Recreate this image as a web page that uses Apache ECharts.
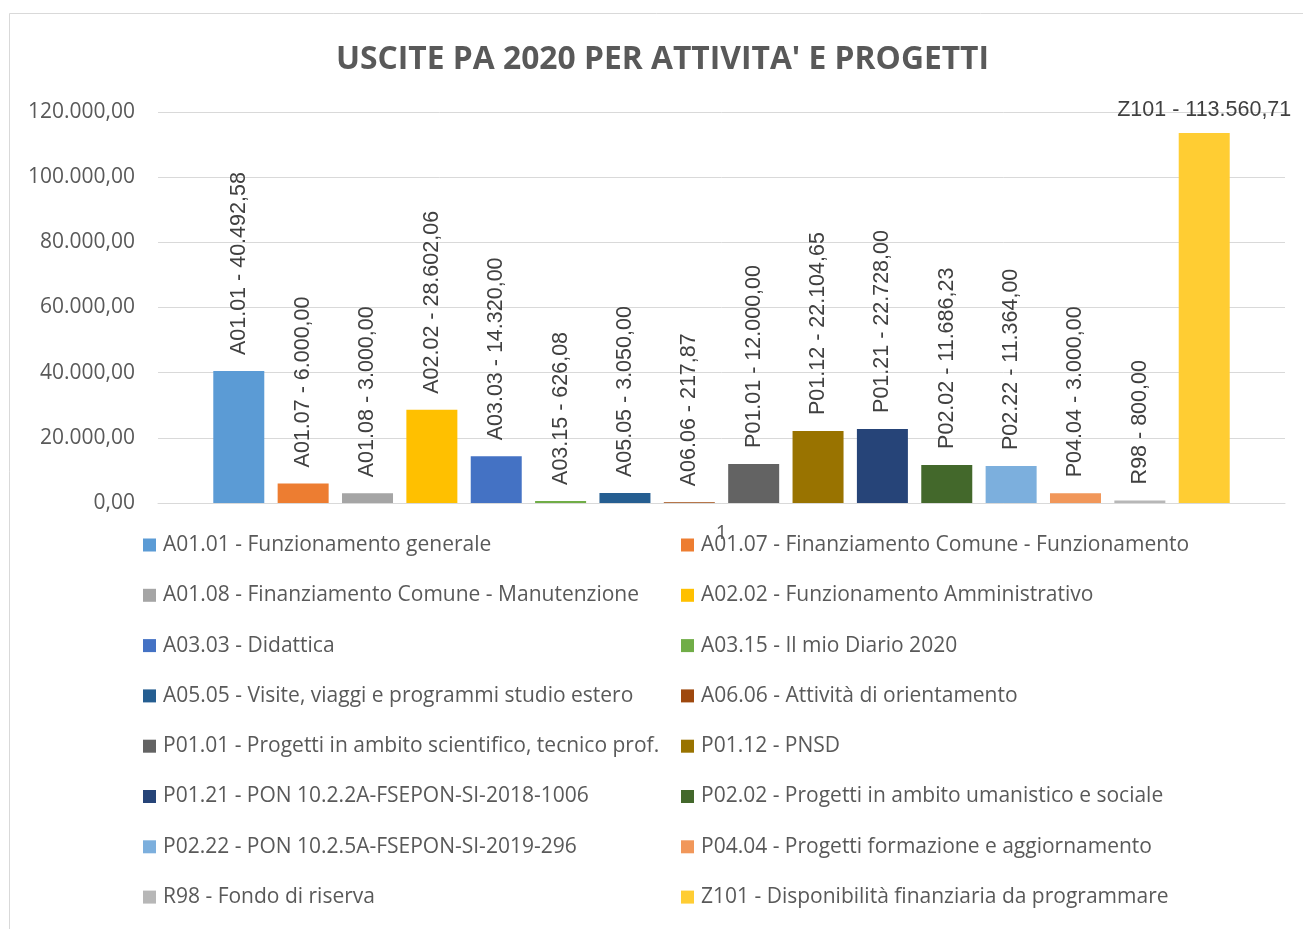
<!DOCTYPE html>
<html>
<head>
<meta charset="utf-8">
<script src="https://cdn.jsdelivr.net/npm/echarts@6/dist/echarts.min.js"></script>
<style>
html,body{margin:0;padding:0;background:#fff;}
#chart{width:1303px;height:929px;}
</style>
</head>
<body>
<div id="chart"></div>
<script>
const titleText = "USCITE PA 2020 PER ATTIVITA' E PROGETTI";
const categories = ["1"];
const codes = ["A01.01","A01.07","A01.08","A02.02","A03.03","A03.15","A05.05","A06.06","P01.01","P01.12","P01.21","P02.02","P02.22","P04.04","R98","Z101"];
const descriptions = [
  "Funzionamento generale",
  "Finanziamento Comune - Funzionamento",
  "Finanziamento Comune - Manutenzione",
  "Funzionamento Amministrativo",
  "Didattica",
  "Il mio Diario 2020",
  "Visite, viaggi e programmi studio estero",
  "Attività di orientamento",
  "Progetti in ambito scientifico, tecnico prof.",
  "PNSD",
  "PON 10.2.2A-FSEPON-SI-2018-1006",
  "Progetti in ambito umanistico e sociale",
  "PON 10.2.5A-FSEPON-SI-2019-296",
  "Progetti formazione e aggiornamento",
  "Fondo di riserva",
  "Disponibilità finanziaria da programmare"
];
const values = [40492.58,6000,3000,28602.06,14320,626.08,3050,217.87,12000,22104.65,22728,11686.23,11364,3000,800,113560.71];
const colors = ["#5B9BD5","#ED7D31","#A5A5A5","#FFC000","#4472C4","#70AD47","#255E91","#9E480E","#636363","#997300","#264478","#43682B","#7CAFDD","#F1975A","#B7B7B7","#FFCD33"];
const yMin = 0, yMax = 120000, yStep = 20000;

function fmtIt(v){
  const parts = v.toFixed(2).split('.');
  const intPart = parts[0].replace(/\B(?=(\d{3})+(?!\d))/g, '.');
  return intPart + ',' + parts[1];
}

const names = codes.map((c,i)=> c + ' - ' + descriptions[i]);
const labelFont = 'Liberation Sans';
const uiFont = 'Open Sans';

const series = codes.map((c,i)=>{
  const horizontal = (i === codes.length-1);
  return {
    type:'bar',
    name:names[i],
    data:[values[i]],
    barWidth:51,
    barGap:'26.2%',
    itemStyle:{color:colors[i]},
    label:{
      show:true,
      position:'top',
      distance: horizontal ? 12 : 16,
      rotate: horizontal ? 0 : 90,
      align: horizontal ? 'center' : 'left',
      verticalAlign: horizontal ? 'bottom' : 'middle',
      formatter: ()=> c + ' - ' + fmtIt(values[i]),
      color:'#404040',
      fontFamily:labelFont,
      fontSize:21.5
    }
  };
});

const leftNames = names.filter((n,i)=> i%2===0);
const rightNames = names.filter((n,i)=> i%2===1);
const legendCommon = {
  orient:'vertical',
  top:533,
  padding:0,
  itemWidth:13,
  itemHeight:13,
  itemGap:26.3,
  icon:'rect',
  textStyle:{color:'#595959',fontFamily:uiFont,fontSize:21,lineHeight:24,padding:[0,0,0,2]}
};

const chart = echarts.init(document.getElementById('chart'));
chart.setOption({
  animation:false,
  backgroundColor:'#fff',
  color:colors,
  title:{
    text:titleText,
    left:331,
    top:39,
    textStyle:{color:'#595959',fontFamily:uiFont,fontWeight:'bold',fontSize:31.8}
  },
  graphic:[{
    type:'rect',
    shape:{x:9.5,y:13.5,width:1310,height:930},
    style:{fill:'none',stroke:'#d9d9d9',lineWidth:1},
    silent:true,
    z:-10
  }],
  legend:[
    Object.assign({left:143,data:leftNames}, legendCommon),
    Object.assign({left:681,data:rightNames}, legendCommon)
  ],
  grid:{left:158,right:18,top:112,bottom:426},
  xAxis:{
    type:'category',
    data:categories,
    axisLine:{lineStyle:{color:'#d9d9d9',width:1}},
    axisTick:{show:false},
    axisLabel:{color:'#595959',fontFamily:uiFont,fontSize:20,margin:20}
  },
  yAxis:{
    type:'value',
    min:yMin,max:yMax,interval:yStep,
    axisLine:{show:false},
    axisTick:{show:false},
    splitLine:{lineStyle:{color:'#d9d9d9',width:1}},
    axisLabel:{color:'#595959',fontFamily:uiFont,fontSize:21,margin:23,formatter:(v)=>fmtIt(v)}
  },
  series:series
});
</script>
</body>
</html>
